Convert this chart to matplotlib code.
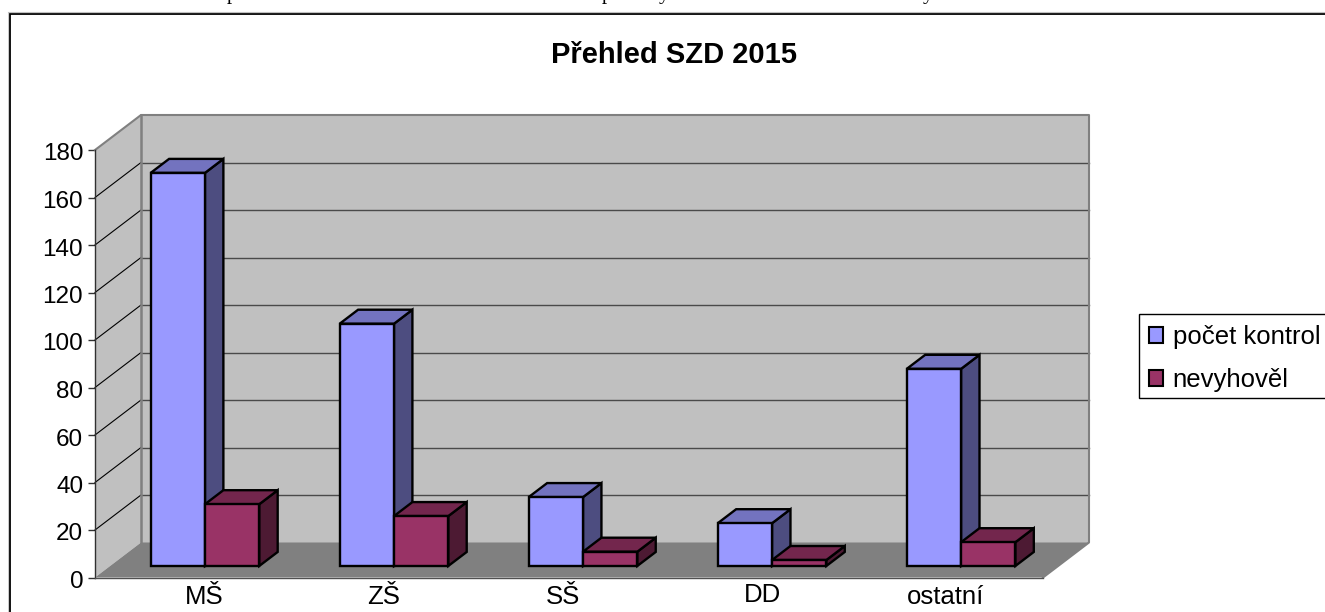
import matplotlib
matplotlib.use('Agg')
import matplotlib.pyplot as plt
from matplotlib.lines import Line2D
from matplotlib.patches import Patch, Polygon, Rectangle
from matplotlib.transforms import ScaledTranslation

plt.rcParams['font.family'] = ['Liberation Sans', 'DejaVu Sans']

categories = ['MŠ', 'ZŠ', 'SŠ', 'DD', 'ostatní']
pocet_kontrol = [165.5, 102, 29, 18, 83]
nevyhovel = [26, 21, 6, 2.5, 10]
y_ticks = [0, 20, 40, 60, 80, 100, 120, 140, 160, 180]

W, H = 1325, 612
fig = plt.figure(figsize=(W / 100, H / 100), dpi=100, facecolor='white')
ax = fig.add_axes([95 / W, (H - 577.5) / H, 948 / W, 427.5 / H])
ax.set_xlim(0, 5)
ax.set_ylim(0, 180)
ax.patch.set_visible(False)

# depth of the fake 3d box, in data units
DX = 46 / 189.6
DY = 35 / 2.375


def poly(pts, color, z, edge='none', lw=0):
    ax.add_patch(Polygon(pts, closed=True, facecolor=color, edgecolor=edge,
                         linewidth=lw, zorder=z, clip_on=False, joinstyle='miter'))


# walls and floor
poly([(0, 0), (DX, DY), (DX, 180 + DY), (0, 180)], '#C0C0C0', 1)
poly([(DX, DY), (5 + DX, DY), (5 + DX, 180 + DY), (DX, 180 + DY)], '#C0C0C0', 1)
poly([(0, 0), (5, 0), (5 + DX, DY), (DX, DY)], '#808080', 1)

for t in y_ticks[1:-1]:
    ax.plot([0, DX], [t, t + DY], color='black', lw=0.8, zorder=2, clip_on=False)
    ax.plot([DX, 5 + DX], [t + DY, t + DY], color='#4a4a4a', lw=1.0, zorder=2, clip_on=False)

# back wall border
ax.plot([0, DX, 5 + DX, 5 + DX, 5], [180, 180 + DY, 180 + DY, DY, 0],
        color='#808080', lw=1.5, zorder=3, clip_on=False)
ax.plot([DX, DX], [DY, 180 + DY], color='#808080', lw=1.8, zorder=3, clip_on=False)

BAR_W = 54.3 / 189.6
GAP = 1 - 2 * BAR_W
FRONT = 0.33
DEPTH = 0.4
STEP = 0.997
base = FRONT * DY
off_x = FRONT * DX


def bar3d(x0, val, front, side, top, z):
    x1 = x0 + BAR_W
    dx = DEPTH * DX
    dy = DEPTH * DY
    yt = base + val
    poly([(x1, base), (x1 + dx, base + dy), (x1 + dx, yt + dy), (x1, yt)], side, z, 'black', 1.7)
    poly([(x0, yt), (x1, yt), (x1 + dx, yt + dy), (x0 + dx, yt + dy)], top, z, 'black', 1.7)
    poly([(x0, base), (x1, base), (x1, yt), (x0, yt)], front, z, 'black', 1.7)


for i in range(len(categories)):
    left = i * STEP + GAP / 2 + off_x
    bar3d(left, pocet_kontrol[i], '#9999FF', '#4D4D80', '#7373BF', 5)
    bar3d(left + BAR_W, nevyhovel[i], '#993366', '#4D1A33', '#73264D', 6)

# axes
for s in ['top', 'right']:
    ax.spines[s].set_visible(False)
ax.spines['left'].set_color('#303030')
ax.spines['bottom'].set_color('#505050')
ax.spines['left'].set_linewidth(1.0)
ax.spines['bottom'].set_linewidth(1.0)
ax.spines['left'].set_zorder(4)
ax.spines['bottom'].set_zorder(4)
ax.set_yticks(y_ticks)
ax.tick_params(axis='y', length=5, width=1.0, color='#303030', pad=3.5, labelsize=17.5)
ax.set_xticks([])

# tick labels sit about 2px under their ticks
down = ScaledTranslation(0, -2 / 100, fig.dpi_scale_trans)
for lab in ax.get_yticklabels():
    lab.set_transform(lab.get_transform() + down)

# category labels sit a little unevenly in the original
label_px = [204, 384, 563, 762, 946]
label_py = [597, 597, 597, 595, 597]
for name, px, py in zip(categories, label_px, label_py):
    fig.text(px / W, 1 - py / H, name, fontsize=18.5, ha='center', va='center')

fig.text(674 / W, 1 - 55 / H, 'Přehled SZD 2015', fontsize=21, fontweight='bold',
         ha='center', va='center')

# legend, the box is drawn apart since its padding is uneven
ax.add_patch(Rectangle((1139 / W, 1 - 398 / H), 190 / W, 84 / H, transform=fig.transFigure,
                       facecolor='white', edgecolor='black', linewidth=1.0,
                       clip_on=False, zorder=9))
handles = [Patch(facecolor='#9999FF', edgecolor='black', linewidth=1.5, label='počet kontrol'),
           Patch(facecolor='#993366', edgecolor='black', linewidth=1.5, label='nevyhověl')]
leg = ax.legend(handles=handles, loc='upper left',
                bbox_to_anchor=(1149 / W, 1 - 325 / H), bbox_transform=fig.transFigure,
                fontsize=18.5, frameon=False,
                borderaxespad=0, borderpad=0, labelspacing=0.74,
                handlelength=0.54, handleheight=0.54, handletextpad=0.38)
leg.set_zorder(10)

# chart area border, runs off the right and bottom of the crop
fig.add_artist(Line2D([9.5 / W, 9.5 / W, 1], [0, 1 - 13.5 / H, 1 - 13.5 / H],
                      color='black', lw=1.3, solid_joinstyle='miter'))
fig.add_artist(Line2D([8 / W, 8 / W], [0, 1 - 12 / H], color='#c0c0c0', lw=0.6))
fig.add_artist(Line2D([8 / W, 1], [1 - 12 / H, 1 - 12 / H], color='#c0c0c0', lw=0.8))

# page text above the chart, only descenders are inside the crop
for ch, px in [('p', 232), ('p', 607), ('y', 664), ('y', 928)]:
    fig.text(px / W, 1 - (-0.5) / H, ch, family='Liberation Serif', fontsize=15,
             ha='center', va='baseline')

fig.savefig('out.png', dpi=100)
